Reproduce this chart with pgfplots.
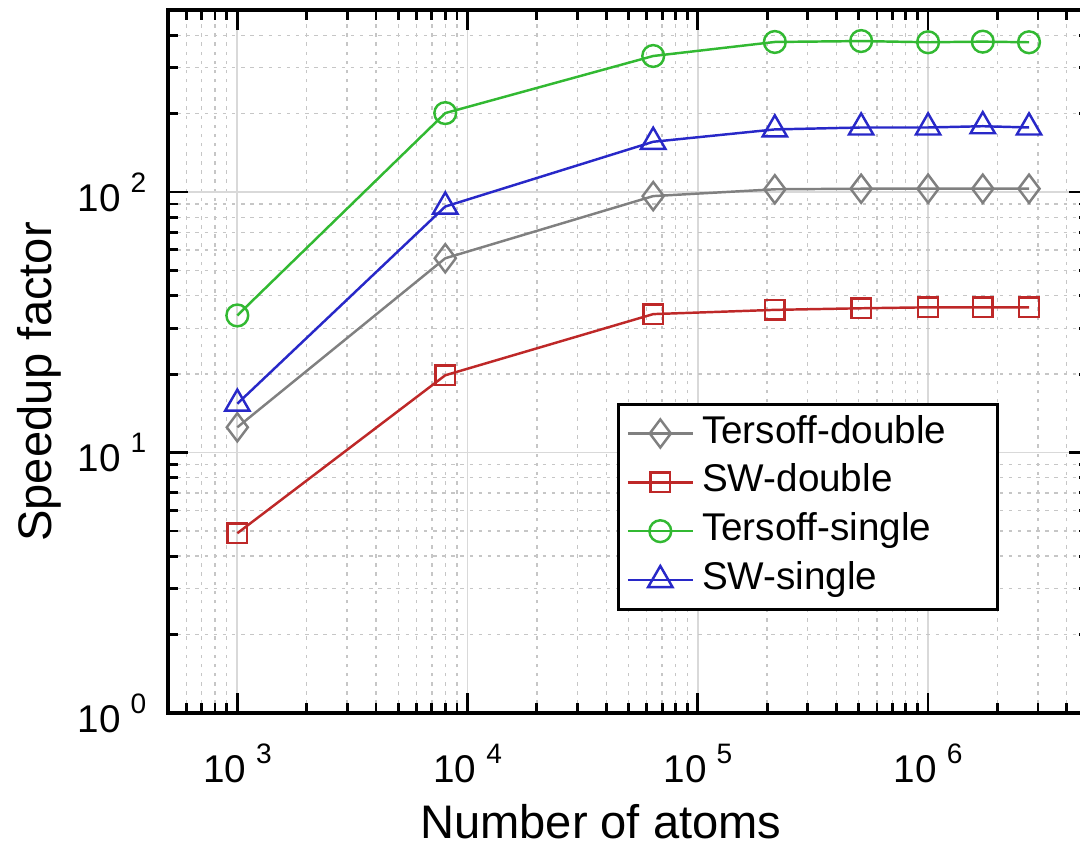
\documentclass[border=0pt]{standalone}
\usepackage{fontspec}
\setmainfont{Liberation Sans}
\usepackage{pgfplots}
\pgfplotsset{compat=1.18}

\definecolor{cgray}{RGB}{128,128,128}
\definecolor{cred}{RGB}{190,40,40}
\definecolor{cgreen}{RGB}{50,185,50}
\definecolor{cblue}{RGB}{40,40,200}

% power-of-ten tick label in text font
\newcommand{\tpow}[1]{10\hspace{1mm}\raisebox{5.4pt}{\fontsize{8}{8}\selectfont #1}}

\begin{document}
\begin{tikzpicture}
\begin{axis}[
    at={(0,0)}, anchor=south west,
    scale only axis,
    width=92.1mm, height=70.3mm,
    xmode=log, ymode=log,
    xmin=500, xmax=5e6,
    ymin=1, ymax=500,
    xtick={1e3,1e4,1e5,1e6},
    xticklabels={\tpow{3},\tpow{4},\tpow{5},\tpow{6}},
    ytick={1,10,100},
    yticklabels={\tpow{0},\tpow{1},\tpow{2}},
    minor xtick={600,700,800,900,2000,3000,4000,5000,6000,7000,8000,9000,
        20000,30000,40000,50000,60000,70000,80000,90000,
        200000,300000,400000,500000,600000,700000,800000,900000,
        2000000,3000000,4000000},
    minor ytick={2,3,4,5,6,7,8,9,20,30,40,50,60,70,80,90,200,300,400},
    tick align=inside,
    major tick length=2mm, minor tick length=1mm,
    tick style={black, line width=0.8pt},
    axis line style={line width=0.9pt},
    grid=both,
    major grid style={gray!30, line width=0.5pt},
    minor grid style={gray!45, dash pattern=on 1pt off 1.6pt, line width=0.4pt},
    xticklabel style={inner sep=0pt, anchor=north, yshift=-3mm, font=\fontsize{11}{11}\selectfont},
    yticklabel style={inner sep=0pt, anchor=east, xshift=-2.1mm, font=\fontsize{11}{11}\selectfont},
    xlabel={Number of atoms},
    ylabel={Speedup factor},
    label style={font=\fontsize{13.4}{14}\selectfont},
    xlabel style={at={(axis description cs:0.47,-0.178)}, anchor=base, inner sep=0pt},
    ylabel style={at={(axis description cs:-0.126,0.471)}, anchor=base, inner sep=0pt},
    legend cell align=left,
    legend image code/.code={\draw[mark repeat=2,mark phase=2] plot coordinates {(0mm,0mm)(3.25mm,0mm)(6.5mm,0mm)};},
    legend style={at={(axis description cs:0.4875,0.441)}, anchor=north west,
        draw=black, line width=0.85pt, fill=white,
        inner xsep=2.3pt, inner ysep=3pt, row sep=3.4pt,
        font=\fontsize{11}{11}\selectfont,
        nodes={inner sep=0pt, text height=8pt, text depth=2.5pt},
        /tikz/every odd column/.style={column sep=0.8mm}},
]

\addplot[cgray, line width=0.7pt, mark=diamond, mark size=4pt] coordinates {
    (1000,12.5) (8000,55.7) (64000,96.5) (216000,102.5) (512000,103)
    (1000000,103) (1728000,103) (2744000,103)
};
\addplot[cred, line width=0.7pt, mark=square, mark size=2.8pt] coordinates {
    (1000,4.9) (8000,19.8) (64000,34.0) (216000,35.3) (512000,35.8)
    (1000000,36.1) (1728000,36.1) (2744000,36.1)
};
\addplot[cgreen, line width=0.7pt, mark=o, mark size=3.1pt] coordinates {
    (1000,33.6) (8000,201) (64000,333) (216000,377) (512000,380)
    (1000000,376) (1728000,378) (2744000,376)
};
\addplot[cblue, line width=0.7pt, mark=triangle, mark size=4pt] coordinates {
    (1000,15.4) (8000,88) (64000,156) (216000,174) (512000,177)
    (1000000,177) (1728000,179) (2744000,177)
};

\legend{\makebox[28.7mm][l]{Tersoff-double},
        \makebox[28.7mm][l]{SW-double},
        \makebox[28.7mm][l]{Tersoff-single},
        \makebox[28.7mm][l]{SW-single}}
\end{axis}
% the reference is cut just inside the right edge of the axis
\pgfresetboundingbox
\path (-16.8mm,-13.3mm) rectangle (91.2mm,71.3mm);
\end{tikzpicture}
\end{document}
